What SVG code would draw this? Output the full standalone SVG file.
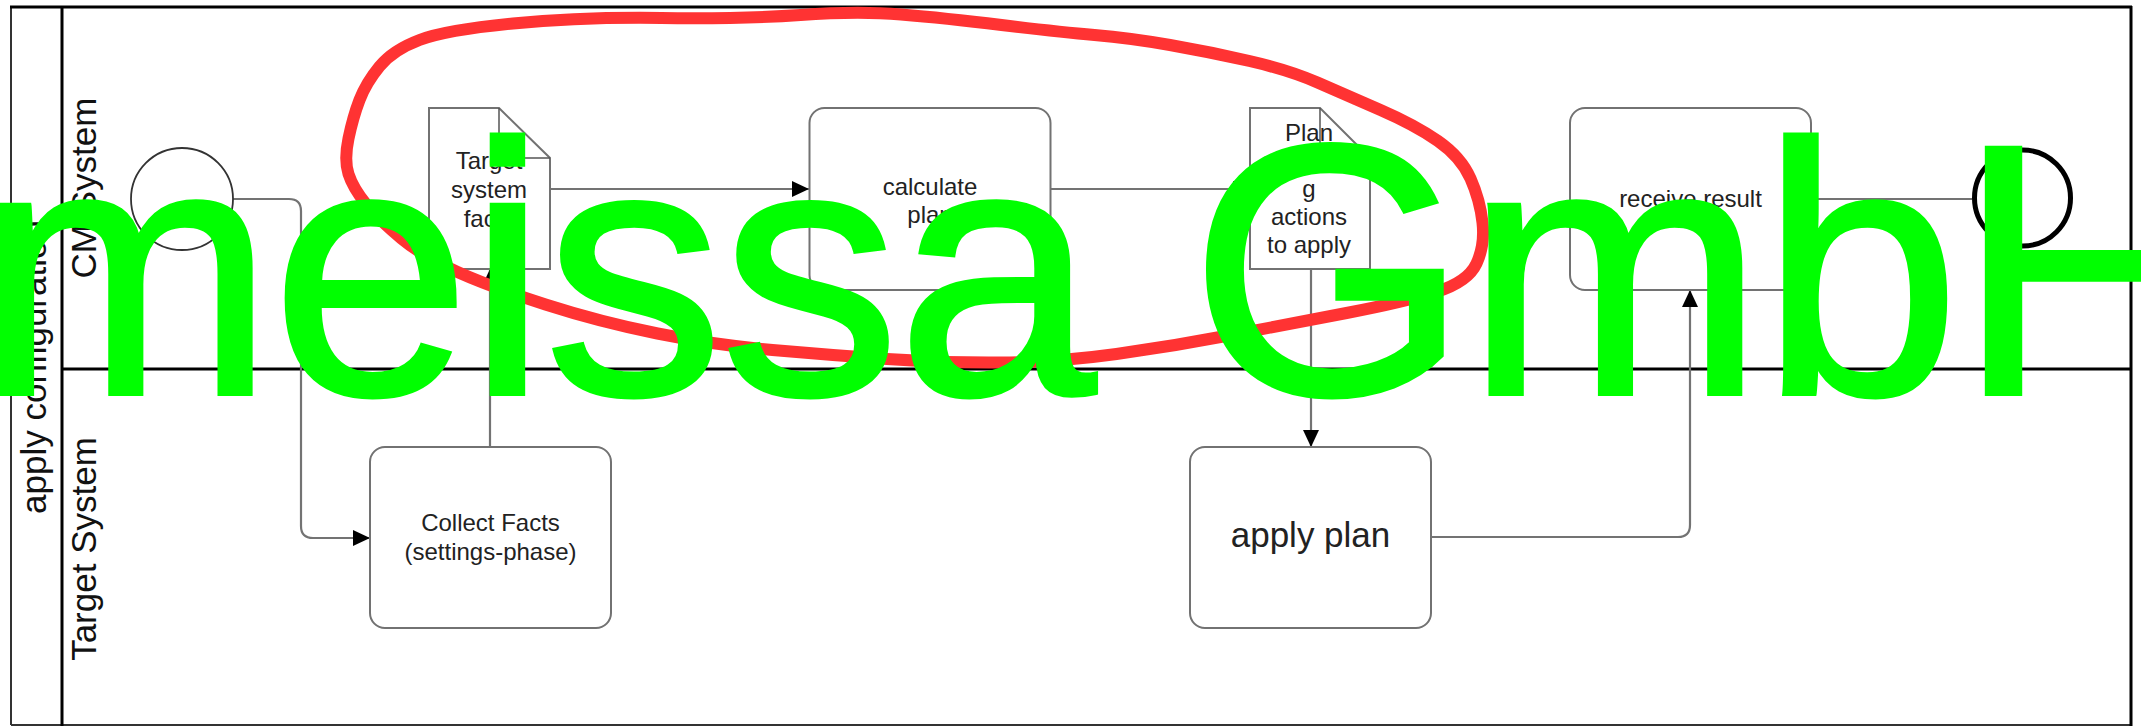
<svg xmlns="http://www.w3.org/2000/svg" width="2141" height="727" viewBox="0 0 2141 727">
<style>
.bg{fill:#fff}
.pool{stroke:#000;stroke-width:3;fill:none}
.poolthin{stroke:#333;stroke-width:2;fill:none}
.task{fill:#fff;stroke:#727272;stroke-width:2}
.fold{fill:none;stroke:#555;stroke-width:1.5}
.conn{fill:none;stroke:#737373;stroke-width:2.2}
.lbl{font-family:"Liberation Sans",Arial,sans-serif;font-size:24px;fill:#222;text-anchor:middle}
.lane{font-family:"Liberation Sans",Arial,sans-serif;font-size:35px;fill:#111;text-anchor:middle}
</style>
<defs>
<marker id="arr" markerUnits="userSpaceOnUse" markerWidth="18" markerHeight="18" refX="17" refY="8" orient="auto">
<path d="M0,0 L17,8 L0,16 Z" fill="#000"/>
</marker>
</defs>
<rect class="bg" x="0" y="0" width="2141" height="727"/>
<g id="pool">
<line class="poolthin" x1="11" y1="7" x2="11" y2="725"/>
<line class="poolthin" x1="11" y1="725" x2="2131" y2="725"/>
<line class="pool" x1="10" y1="7" x2="2132" y2="7"/>
<line class="pool" x1="2131" y1="6" x2="2131" y2="726"/>
<line class="pool" x1="62" y1="7" x2="62" y2="726"/>
<line class="pool" x1="62" y1="369" x2="2131" y2="369"/>
<text class="lane" transform="translate(46,367) rotate(-90)">apply configuration</text>
<text class="lane" transform="translate(96,188) rotate(-90)">CM System</text>
<text class="lane" transform="translate(96,549) rotate(-90)">Target System</text>
</g>
<g id="connectors">
<path class="conn" d="M233,199 H289 Q301,199 301,211 V526 Q301,538 313,538 H370" marker-end="url(#arr)"/>
<path class="conn" d="M490,447 V269" marker-end="url(#arr)"/>
<path class="conn" d="M550,189 H809" marker-end="url(#arr)"/>
<path class="conn" d="M1051,189 H1250" marker-end="url(#arr)"/>
<path class="conn" d="M1311,269 V447" marker-end="url(#arr)"/>
<path class="conn" d="M1431,537 H1678 Q1690,537 1690,525 V290" marker-end="url(#arr)"/>
<path class="conn" d="M1811,199 H1972"/>
</g>
<g id="start">
<circle cx="182" cy="199" r="51" fill="#fff" stroke="#333" stroke-width="1.8"/>
</g>
<g id="doc-target-facts">
<path class="task" d="M429,108 H499 L550,158 V269 H429 Z"/>
<path class="fold" d="M499,108 V158 H550"/>
<text class="lbl" x="489" y="169">Target</text>
<text class="lbl" x="489" y="198">system</text>
<text class="lbl" x="489" y="227">facts</text>
</g>
<g id="calculate-plan">
<rect class="task" x="809.5" y="108" width="241" height="182" rx="15"/>
<text class="lbl" x="930" y="194.5">calculate</text>
<text class="lbl" x="930" y="223">plan</text>
</g>
<g id="doc-plan">
<path class="task" d="M1250,108 H1320 L1370,158 V269 H1250 Z"/>
<path class="fold" d="M1320,108 V158 H1370"/>
<text class="lbl" x="1309" y="141">Plan</text>
<text class="lbl" x="1309" y="169">containin</text>
<text class="lbl" x="1309" y="197">g</text>
<text class="lbl" x="1309" y="225">actions</text>
<text class="lbl" x="1309" y="253">to apply</text>
</g>
<g id="receive-result">
<rect class="task" x="1570" y="108" width="241" height="182" rx="15"/>
<text class="lbl" x="1690.5" y="207">receive result</text>
</g>
<g id="end">
<circle cx="2022.5" cy="198" r="48" fill="#fff" stroke="#000" stroke-width="5"/>
</g>
<g id="collect-facts">
<rect class="task" x="370" y="447" width="241" height="181" rx="15"/>
<text class="lbl" x="490.5" y="531">Collect Facts</text>
<text class="lbl" x="490.5" y="560">(settings-phase)</text>
</g>
<g id="apply-plan">
<rect class="task" x="1190" y="447" width="241" height="181" rx="15"/>
<text class="lbl" x="1310.5" y="547" style="font-size:35px">apply plan</text>
</g>
<g id="annotation">
<path d="M 359.5,100 Q 366,83 379.5,66.5 Q 393,50 419.5,40 Q 446,30 513,23.5 Q 580,17 661.5,18 Q 743,19 800.5,15 Q 858,11 901,14.5 Q 944,18 1001.5,25 Q 1059,32 1094.5,35 Q 1130,38 1170,45 Q 1210,52 1249.5,61 Q 1289,70 1317.5,82.5 Q 1346,95 1380.5,110 Q 1415,125 1438,141 Q 1461,157 1470.5,178.5 Q 1480,200 1482.5,222.5 Q 1485,245 1476.5,263.5 Q 1468,282 1436,292 Q 1404,302 1346.5,313 Q 1289,324 1231.5,335 Q 1174,346 1116.5,354 Q 1059,362 1001.5,362.5 Q 944,363 887,359 Q 830,355 772.5,350 Q 715,345 657.5,333.5 Q 600,322 545.5,304.5 Q 491,287 457.5,272 Q 424,257 401.5,238.5 Q 379,220 366,204 Q 353,188 348.5,174 Q 344,160 348.5,138.5 Q 353,117 359.5,100 Z" fill="none" stroke="#ff3333" stroke-width="12" stroke-linejoin="round"/>
<text x="-24" y="394" font-family="'Liberation Sans',Arial,sans-serif" font-size="358" fill="#00ff00" stroke="#00ff00" stroke-width="4" textLength="2240">meissa GmbH</text>
</g>
</svg>
